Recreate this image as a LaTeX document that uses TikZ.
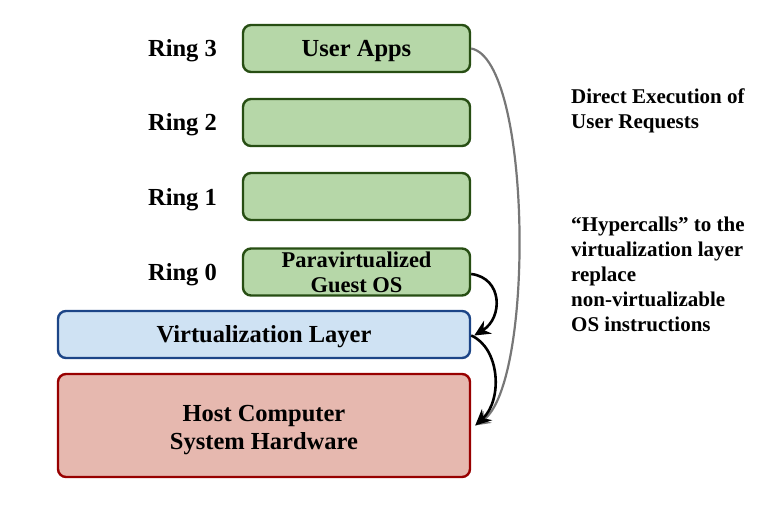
\documentclass[tikz,border=0pt]{standalone}
\usepackage{fontspec}
\setmainfont{Liberation Serif}
\usetikzlibrary{arrows.meta}
\definecolor{gfill}{HTML}{B6D7A8}
\definecolor{gdraw}{HTML}{274E13}
\definecolor{bfill}{HTML}{CFE2F3}
\definecolor{bdraw}{HTML}{1C4587}
\definecolor{rfill}{HTML}{E6B8AF}
\definecolor{rdraw}{HTML}{980000}
\definecolor{garrow}{HTML}{777777}
\newcommand\liftby[2]{\raisebox{#1}[0pt][0pt]{#2}}
\tikzset{
  layer/.style={rounded corners=8pt, line width=2.4pt, minimum height=47pt, inner sep=0pt, align=center,
    font=\fontsize{24.5}{24.5}\selectfont\bfseries},
  green/.style={layer, fill=gfill, draw=gdraw, minimum width=227pt},
  ringlabel/.style={font=\fontsize{24.5}{24.5}\selectfont\bfseries, anchor=base, inner sep=0pt},
  note/.style={font=\fontsize{21}{25}\selectfont\bfseries, align=left, anchor=north west, inner sep=0pt},
  conn/.style={line width=2.6pt, -{Stealth[length=16pt,width=15pt]}}
}
\begin{document}
\begin{tikzpicture}[x=1pt,y=-1pt]
\useasboundingbox (0,0) rectangle (764,509);
\node[green] (apps) at (356.5,48.5) {\liftby{-7.5pt}{User Apps}};
\node[green] (r2) at (356.5,122.5) {};
\node[green] (r1) at (356.5,196.5) {};
\node[green, font=\fontsize{22.5}{25.5}\selectfont\bfseries] (guest) at (356.5,272)
  {\liftby{5pt}{\parbox[t]{220pt}{\centering Paravirtualized\\Guest OS}}};
\node[layer, fill=bfill, draw=bdraw, minimum width=412pt] (virt) at (264,334.5) {\liftby{-7.5pt}{Virtualization Layer}};
\node[layer, fill=rfill, draw=rdraw, minimum width=412pt, minimum height=103pt,
  font=\fontsize{24.5}{28}\selectfont\bfseries] (host) at (264,425.5)
  {\liftby{4pt}{\parbox[t]{400pt}{\centering Host Computer\\System Hardware}}};
\node[ringlabel] (l3) at (182.5,56) {Ring 3};
\node[ringlabel] (l2) at (182.5,130.5) {Ring 2};
\node[ringlabel] (l1) at (182.5,205) {Ring 1};
\node[ringlabel] (l0) at (182.5,280) {Ring 0};
\node[note] (n1) at (571,88.5) {Direct Execution of\\User Requests};
\node[note] (n2) at (571,217) {“Hypercalls” to the\\virtualization layer\\replace\\non-virtualizable\\OS instructions};
\draw[conn, draw=garrow, line width=2.2pt, -{Stealth[length=15pt,width=14pt]}, garrow]
  (apps.east) .. controls (532,60) and (535,385) .. ([xshift=4pt]host.east);
\draw[conn] ([yshift=-2pt]guest.east) .. controls (503,278) and (503,318) .. ([xshift=3pt,yshift=-1pt]virt.east);
\draw[conn] ([yshift=-1pt]virt.east) .. controls (500,348) and (503,400) .. ([xshift=4pt]host.east);
\end{tikzpicture}
\end{document}
